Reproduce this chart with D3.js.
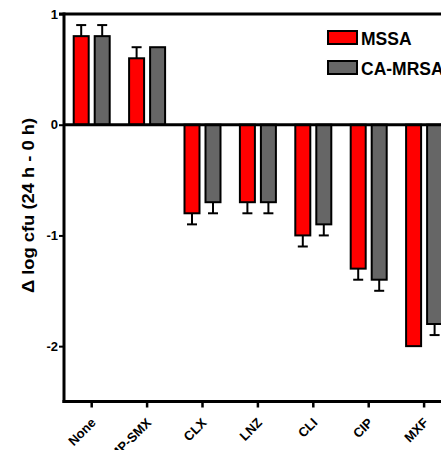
<!DOCTYPE html>
<html>
<head>
<meta charset="utf-8">
<script src="https://cdn.jsdelivr.net/npm/d3@7"></script>
<style>
html,body{margin:0;padding:0;background:#fff;overflow:hidden;}
svg{display:block;font-family:"Liberation Sans",Arial,sans-serif;}
</style>
</head>
<body>
<svg id="chart" width="441" height="450"></svg>
<script>
const categories = ["None","TMP-SMX","CLX","LNZ","CLI","CIP","MXF"];
const seriesNames = ["MSSA","CA-MRSA"];
const mssaValues = [0.8, 0.6, -0.8, -0.7, -1.0, -1.3, -2.0];
const mssaErrors = [0.1, 0.1, 0.1, 0.1, 0.1, 0.1, 0];
const mrsaValues = [0.8, 0.7, -0.7, -0.7, -0.9, -1.4, -1.8];
const mrsaErrors = [0.1, 0, 0.1, 0.1, 0.1, 0.1, 0.1];
const yTicks = [-2, -1, 0, 1];
const colors = ["#ff0000", "#666666"];

const svg = d3.select("#chart");
const mLeft = 64, mTop = 14, mBottom = 401.5, step = 55.4;
const x0 = d3.scaleBand().domain(categories).range([mLeft, mLeft + step * categories.length]).padding(0);
const x1 = d3.scaleBand().domain(seriesNames).range([0, 36]).paddingInner(6/21).paddingOuter(0);
const y = d3.scaleLinear().domain([-2.5, 1]).range([mBottom, mTop]);

const data = categories.map((c, i) => ({
  cat: c,
  vals: [
    {s: seriesNames[0], v: mssaValues[i], e: mssaErrors[i]},
    {s: seriesNames[1], v: mrsaValues[i], e: mrsaErrors[i]}
  ]
}));

// top frame line
svg.append("line").attr("x1", mLeft - 5).attr("x2", 441).attr("y1", y(1)).attr("y2", y(1))
  .attr("stroke", "#000").attr("stroke-width", 3);

// bars
const g = svg.append("g");
const groups = g.selectAll("g.grp").data(data).join("g")
  .attr("transform", d => `translate(${x0(d.cat) + x0.bandwidth()/2 - 18},0)`);

groups.selectAll("line.err").data(d => d.vals.filter(v => v.e > 0)).join("line")
  .attr("class", "err")
  .attr("x1", d => x1(d.s) + x1.bandwidth()/2).attr("x2", d => x1(d.s) + x1.bandwidth()/2)
  .attr("y1", d => y(d.v)).attr("y2", d => y(d.v + Math.sign(d.v) * d.e))
  .attr("stroke", "#000").attr("stroke-width", 2);
groups.selectAll("line.cap").data(d => d.vals.filter(v => v.e > 0)).join("line")
  .attr("class", "cap")
  .attr("x1", d => x1(d.s) + x1.bandwidth()/2 - 5).attr("x2", d => x1(d.s) + x1.bandwidth()/2 + 5)
  .attr("y1", d => y(d.v + Math.sign(d.v) * d.e)).attr("y2", d => y(d.v + Math.sign(d.v) * d.e))
  .attr("stroke", "#000").attr("stroke-width", 2);

groups.selectAll("rect").data(d => d.vals).join("rect")
  .attr("x", d => x1(d.s))
  .attr("width", x1.bandwidth())
  .attr("y", d => y(Math.max(0, d.v)))
  .attr("height", d => Math.abs(y(d.v) - y(0)))
  .attr("fill", (d, i) => colors[i])
  .attr("stroke", "#000").attr("stroke-width", 2);

// zero line
svg.append("line").attr("x1", mLeft).attr("x2", 441).attr("y1", y(0)).attr("y2", y(0))
  .attr("stroke", "#000").attr("stroke-width", 3);

// y axis
const yAxis = svg.append("g").attr("transform", `translate(${mLeft},0)`)
  .call(d3.axisLeft(y).tickValues(yTicks).tickSize(5).tickPadding(1).tickFormat(d3.format("d")));
yAxis.select(".domain").attr("stroke-width", 3).attr("d", `M0,${y(1) - 1.5}V${mBottom + 1.5}`);
yAxis.selectAll(".tick line").attr("stroke-width", 2);
yAxis.selectAll(".tick text").attr("font-size", 13).attr("font-weight", "bold").attr("fill", "#000")
  .attr("font-family", "'Liberation Sans', Arial, sans-serif")
  .text(d => d < 0 ? "-" + Math.abs(d) : d);

// x axis
const xAxis = svg.append("g").attr("transform", `translate(0,${mBottom})`)
  .call(d3.axisBottom(x0).tickSize(6).tickSizeOuter(0));
xAxis.select(".domain").attr("stroke-width", 3).attr("d", `M${mLeft - 1.5},0H441`);
xAxis.selectAll(".tick line").attr("stroke-width", 2.5);
xAxis.selectAll(".tick text")
  .attr("font-size", 13).attr("font-weight", "bold").attr("fill", "#000")
  .attr("font-family", "'Liberation Sans', Arial, sans-serif")
  .attr("text-anchor", "end")
  .attr("y", 0).attr("dy", 0)
  .attr("transform", "translate(5,22) rotate(-45)");

// y label
svg.append("text")
  .attr("transform", `translate(34,205.5) rotate(-90)`)
  .attr("text-anchor", "middle")
  .attr("font-size", 17).attr("font-weight", "bold")
  .attr("textLength", 175).attr("lengthAdjust", "spacingAndGlyphs")
  .text("Δ log cfu (24 h - 0 h)");

// legend
const legend = svg.append("g");
const ly = [30, 60];
seriesNames.forEach((s, i) => {
  legend.append("rect").attr("x", 328).attr("y", ly[i] + 1).attr("width", 29).attr("height", 13)
    .attr("fill", colors[i]).attr("stroke", "#000").attr("stroke-width", 2);
  legend.append("text").attr("x", 361).attr("y", ly[i] + 14.5)
    .attr("font-size", 17.5).attr("font-weight", "bold").text(s);
});
</script>
</body>
</html>
